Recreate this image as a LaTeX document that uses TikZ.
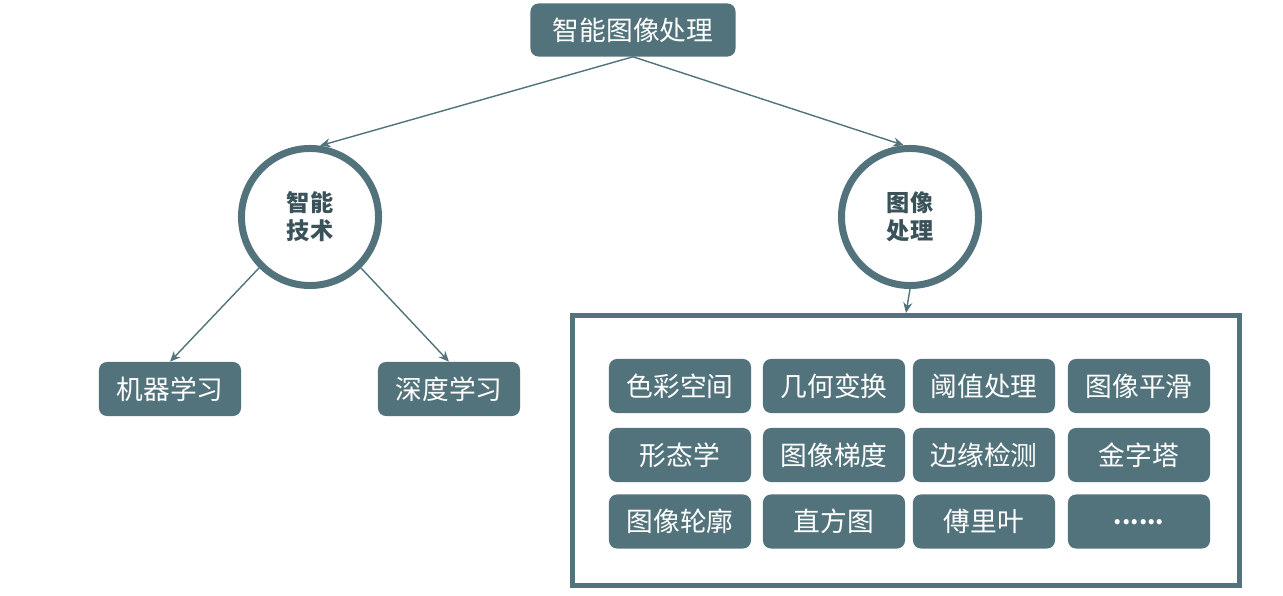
\documentclass[tikz,border=0pt]{standalone}
\usepackage{fontspec}
\setmainfont{Noto Sans CJK SC}
\usepackage{xcolor}
\usetikzlibrary{arrows.meta,positioning}

\definecolor{slate}{RGB}{82,115,123}
\definecolor{slatedark}{RGB}{58,82,89}

\begin{document}
\begin{tikzpicture}[
  x=0.025cm, y=-0.025cm,
  root/.style={fill=slate, text=white, rounded corners=0.2cm, minimum width=5.125cm, minimum height=1.325cm, font=\fontsize{19}{22}\selectfont},
  branch/.style={circle, draw=slate, line width=0.175cm, minimum size=3.425cm, align=center, text=slatedark, font=\fontsize{16.5}{20}\selectfont\bfseries},
  leaf/.style={fill=slate, text=white, rounded corners=0.2cm, minimum width=3.55cm, minimum height=1.35cm, font=\fontsize{19}{22}\selectfont},
  frame/.style={draw=slate, line width=0.125cm, minimum width=16.675cm, minimum height=6.75cm},
  link/.style={draw=slate, line width=1pt, -{Stealth[length=7.5pt,width=6.5pt]}}
]
  \useasboundingbox (0,0) rectangle (1283,596);

  % Root
  \node[root] (IIP) at (633,30) {智能图像处理};

  % Branches
  \node[branch] (AI) at (310,217) {智能\\技术};
  \node[branch] (IP) at (910,217) {图像\\处理};

  % Intelligent techniques
  \node[leaf] (ML) at (170,389) {机器学习};
  \node[leaf] (DL) at (449,389) {深度学习};

  % Image processing topics
  \node[frame] (IPbox) at (906,450.5) {};

  \node[leaf] (M11) at (680,386) {色彩空间};
  \node[leaf] (M12) at (834,386) {几何变换};
  \node[leaf] (M13) at (984,386) {阈值处理};
  \node[leaf] (M14) at (1139,386) {图像平滑};

  \node[leaf] (M21) at (680,455) {形态学};
  \node[leaf] (M22) at (834,455) {图像梯度};
  \node[leaf] (M23) at (984,455) {边缘检测};
  \node[leaf] (M24) at (1139,455) {金字塔};

  \node[leaf] (M31) at (680,521.5) {图像轮廓};
  \node[leaf] (M32) at (834,521.5) {直方图};
  \node[leaf] (M33) at (984,521.5) {傅里叶};
  \node[leaf] (M34) at (1139,521.5) {\raisebox{-0.45ex}{\fontsize{17}{20}\selectfont\bfseries ......}};

  % Arrows
  \draw[link] (IIP.south) -- (AI.82);
  \draw[link] (IIP.south) -- (IP.95);
  \draw[link] (AI.225) -- (ML.north);
  \draw[link] (AI.315) -- (DL.north);
  \draw[link] (IP.south) -- (IPbox.north);
\end{tikzpicture}
\end{document}
